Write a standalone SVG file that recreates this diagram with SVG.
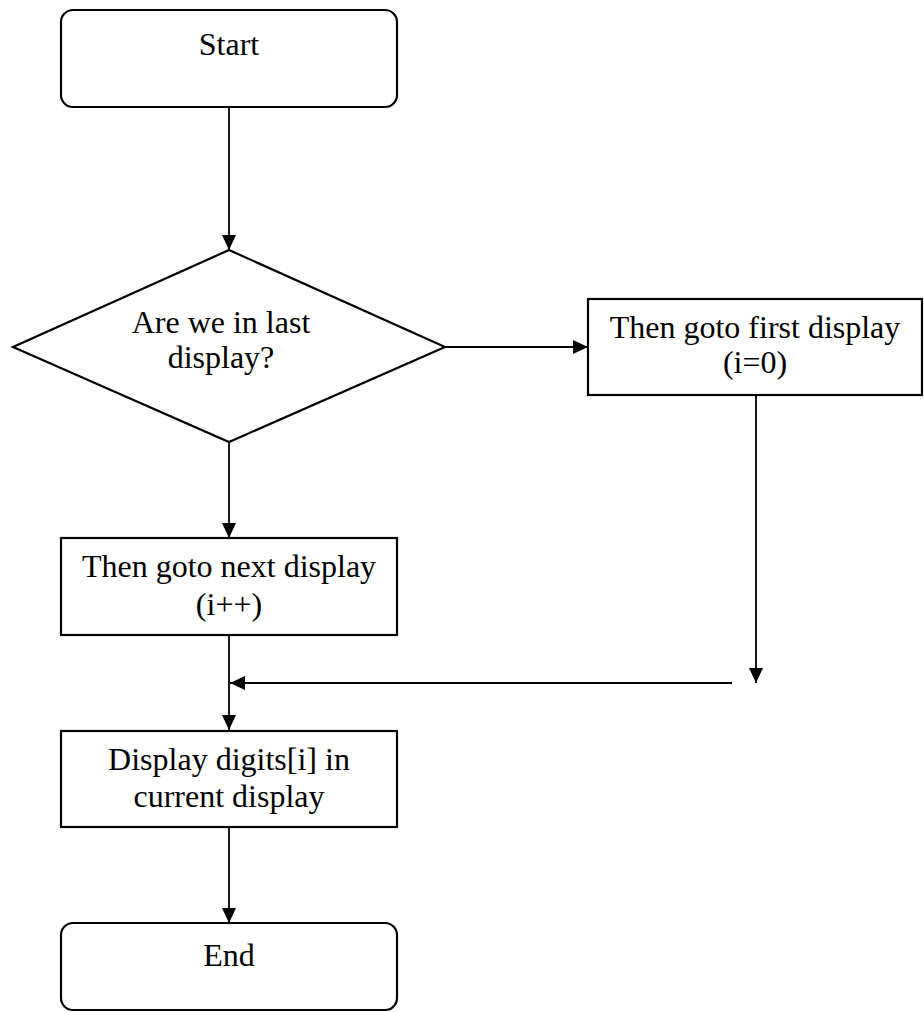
<svg xmlns="http://www.w3.org/2000/svg" width="924" height="1012" viewBox="0 0 924 1012">
<style>
.shape{fill:#fff;stroke:#000;stroke-width:2.2}
.conn{fill:none;stroke:#000;stroke-width:1.8}
text{font-family:"Liberation Serif","Times New Roman",serif;font-size:32px;fill:#000;text-anchor:middle}
</style>
<defs>
<marker id="ah" viewBox="0 0 15 14" refX="15" refY="7" markerWidth="15" markerHeight="14" markerUnits="userSpaceOnUse" orient="auto">
<path d="M0,0 L15,7 L0,14 Z" fill="#000"/>
</marker>
</defs>
<rect width="924" height="1012" fill="#fff"/>
<g id="connectors">
<line class="conn" x1="229" y1="107" x2="229" y2="250" marker-end="url(#ah)"/>
<line class="conn" x1="445" y1="347" x2="588" y2="347" marker-end="url(#ah)"/>
<line class="conn" x1="229" y1="442" x2="229" y2="538" marker-end="url(#ah)"/>
<line class="conn" x1="756" y1="395" x2="756" y2="683" marker-end="url(#ah)"/>
<line class="conn" x1="732" y1="683" x2="230" y2="683" marker-end="url(#ah)"/>
<line class="conn" x1="229" y1="635" x2="229" y2="730" marker-end="url(#ah)"/>
<line class="conn" x1="229" y1="827" x2="229" y2="923" marker-end="url(#ah)"/>
</g>
<g id="start">
<rect class="shape" x="61" y="10" width="336" height="97" rx="12"/>
<text x="229" y="55">Start</text>
</g>
<g id="decision">
<polygon class="shape" points="229,250 445,347 229,442 13,347" stroke-width="1.6"/>
<text x="221" y="333">Are we in last</text>
<text x="221" y="368">display?</text>
</g>
<g id="first">
<rect class="shape" x="588" y="299" width="334" height="96"/>
<text x="755" y="338">Then goto first display</text>
<text x="755" y="373">(i=0)</text>
</g>
<g id="next">
<rect class="shape" x="61" y="538" width="336" height="97"/>
<text x="229" y="577">Then goto next display</text>
<text x="229" y="615">(i++)</text>
</g>
<g id="displayDigits">
<rect class="shape" x="61" y="731" width="336" height="96"/>
<text x="229" y="770">Display digits[i] in</text>
<text x="229" y="807">current display</text>
</g>
<g id="end">
<rect class="shape" x="61" y="923" width="336" height="87" rx="12"/>
<text x="229" y="966">End</text>
</g>
</svg>
